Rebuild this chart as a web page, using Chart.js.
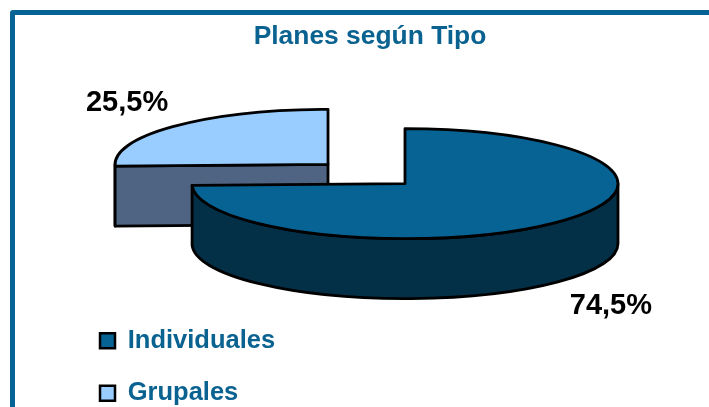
<!DOCTYPE html>
<html>
<head>
<meta charset="utf-8">
<script src="https://cdn.jsdelivr.net/npm/chart.js@4"></script>
<style>
html,body{margin:0;padding:0;background:#fff;width:709px;height:407px;overflow:hidden}
#frame{position:absolute;left:10px;top:10px;width:760px;height:480px;border:5px solid #066394;border-radius:3px}
#c{position:absolute;left:0;top:0}
</style>
</head>
<body>
<div id="frame"></div>
<canvas id="c" width="709" height="407"></canvas>
<script>
const categories = ['Individuales', 'Grupales'];
const values = [74.5, 25.5];
const topColors = ['#066394', '#99ccff'];
const sideColors = ['#032f47', '#4f6482'];
const titleText = 'Planes según Tipo';

const INK = '#000000', BRAND = '#0a6290';
const view = {cx: 366.5, cy: 174, rx: 213, ry: 55, depth: 60, explodeX: 0.2516, explodeY: 0.2516};

function geom(el) {
  const mid = (el.startAngle + el.endAngle) / 2;
  return {
    mid,
    x: view.cx + Math.cos(mid) * view.rx * view.explodeX,
    y: view.cy + Math.sin(mid) * view.ry * view.explodeY
  };
}

const pie3d = {
  id: 'pie3d',
  afterLayout(chart) {
    const lg = chart.legend;
    lg.left = 73; lg.top = 301; lg.right = 400; lg.bottom = 500;
    lg.width = 327; lg.height = 199;
    lg.adjustHitBoxes();
  },
  beforeDatasetDraw(chart, args) {
    const ctx = chart.ctx;
    const els = args.meta.data;
    for (let i = els.length - 1; i >= 0; i--) {
      const el = els[i], g = geom(el);
      const s = Math.max(el.startAngle, 0), e = Math.min(el.endAngle, Math.PI);
      ctx.save();
      ctx.lineWidth = 2.8; ctx.strokeStyle = INK; ctx.lineJoin = 'round';
      ctx.fillStyle = sideColors[i];
      // outer rim wall (front half only)
      if (e > s) {
        ctx.beginPath();
        ctx.ellipse(g.x, g.y, view.rx, view.ry, 0, s, e);
        ctx.lineTo(g.x + Math.cos(e) * view.rx, g.y + Math.sin(e) * view.ry + view.depth);
        ctx.ellipse(g.x, g.y + view.depth, view.rx, view.ry, 0, e, s, true);
        ctx.closePath();
        ctx.fill(); ctx.stroke();
      }
      // radial cut wall facing the viewer
      const a = el.startAngle;
      if (Math.sin(a) > 0) {
        const px = g.x + Math.cos(a) * view.rx, py = g.y + Math.sin(a) * view.ry;
        ctx.beginPath();
        ctx.moveTo(g.x, g.y);
        ctx.lineTo(px, py);
        ctx.lineTo(px, py + view.depth);
        ctx.lineTo(g.x, g.y + view.depth);
        ctx.closePath();
        ctx.fill(); ctx.stroke();
      }
      // top face, filled by the arc element itself
      ctx.save();
      ctx.translate(g.x, g.y);
      ctx.scale(view.rx / el.outerRadius, view.ry / el.outerRadius);
      ctx.translate(-el.x, -el.y);
      el.draw(ctx, chart.chartArea);
      ctx.restore();
      ctx.beginPath();
      ctx.moveTo(g.x, g.y);
      ctx.ellipse(g.x, g.y, view.rx, view.ry, 0, el.startAngle, el.endAngle);
      ctx.closePath();
      ctx.stroke();
      ctx.restore();
    }
    return false;
  },
  afterDatasetsDraw(chart) {
    const ctx = chart.ctx, els = chart.getDatasetMeta(0).data;
    ctx.save();
    ctx.fillStyle = INK;
    ctx.font = 'bold 29px "Liberation Sans"';
    ctx.textAlign = 'center'; ctx.textBaseline = 'middle';
    els.forEach((el, i) => {
      const g = geom(el);
      const lx = g.x + Math.cos(g.mid) * view.rx * 1.33 + 2.5;
      const ly = g.y + Math.sin(g.mid) * view.ry * 1.61 + (Math.sin(g.mid) > 0 ? view.depth : 0) + 0.5;
      ctx.fillText(values[i].toFixed(1).replace('.', ',') + '%', lx, ly);
    });
    ctx.restore();
  }
};

new Chart(document.getElementById('c'), {
  type: 'pie',
  data: {
    labels: categories,
    datasets: [{data: values, backgroundColor: topColors, borderWidth: 0, offset: 0}]
  },
  plugins: [pie3d],
  options: {
    responsive: false,
    animation: false,
    layout: {padding: {left: 31}},
    events: [],
    plugins: {
      tooltip: {enabled: false},
      title: {
        display: true, text: titleText, color: BRAND,
        font: {family: '"Liberation Sans"', size: 26.4, weight: 'bold'},
        padding: {top: 21, bottom: 4}
      },
      legend: {
        display: true, position: 'chartArea', align: 'start',
        labels: {
          color: BRAND, boxWidth: 15, boxHeight: 15, padding: 27,
          font: {family: '"Liberation Sans"', size: 25.5, weight: 'bold'},
          generateLabels(chart) {
            return categories.map((t, i) => ({
              text: t, fillStyle: topColors[i], strokeStyle: INK, lineWidth: 2.5, index: i, fontColor: BRAND
            }));
          }
        }
      }
    }
  }
});
</script>
</body>
</html>
